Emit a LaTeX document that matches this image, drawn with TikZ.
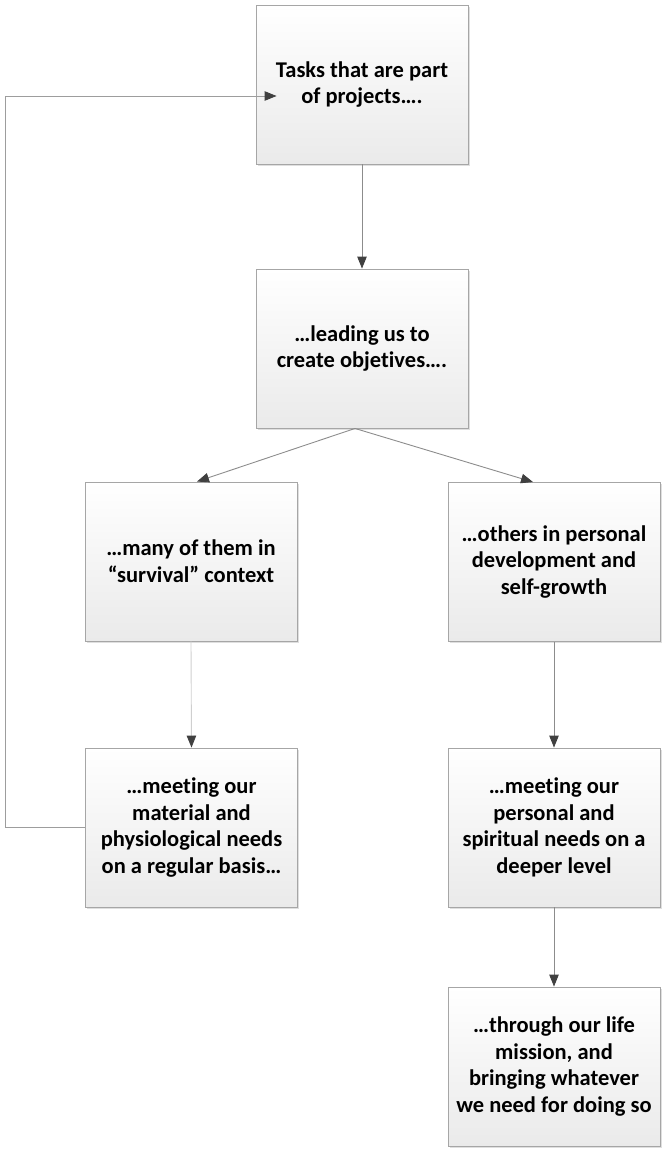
\documentclass[tikz,border=0pt]{standalone}
\usepackage{fontspec}
\setmainfont{Carlito}[Ligatures={NoCommon}]
\usetikzlibrary{arrows.meta,shadows,calc}
\definecolor{boxline}{HTML}{A6A6A6}
\definecolor{boxbot}{HTML}{EAEAEA}
\definecolor{conn}{HTML}{8C8C8C}
\definecolor{connlight}{HTML}{CFCFCF}
\definecolor{tipcol}{HTML}{404040}
\tikzset{
  stepbox/.style={draw=boxline, line width=0.9pt, top color=white, bottom color=boxbot,
    minimum width=212pt, minimum height=159pt, align=center,
    inner sep=0pt, font=\bfseries\fontsize{22.5}{26.7}\selectfont,
    drop shadow={shadow xshift=1.5pt, shadow yshift=-1.5pt, opacity=0.25, fill=gray}},
  conline/.style={draw=conn, line width=0.9pt,
    -{Triangle[length=12pt,width=9.5pt,fill=tipcol,color=tipcol]}},
  conlight/.style={conline, draw=connlight},
}
\begin{document}
\begin{tikzpicture}[x=1pt,y=-1pt]
\useasboundingbox (0,0) rectangle (666,1151);
\node[stepbox] (b1) at (362,84.5) {Tasks that are part\\of projects….};
\node[stepbox] (b2) at (362,348.5) {…leading us to\\create objetives….};
\node[stepbox] (b3) at (191,561.5) {…many of them in\\“survival” context};
\node[stepbox] (b4) at (554,562) {…others in personal\\development and\\self-growth};
\node[stepbox] (b5) at (191.5,827.5) {…meeting our\\material and\\physiological needs\\on a regular basis…};
\node[stepbox] (b6) at (554,827.5) {…meeting our\\personal and\\spiritual needs on a\\deeper level};
\node[stepbox] (b7) at (554,1066.5) {…through our life\\mission, and\\bringing whatever\\we need for doing so};
\draw[conline] (b1.south) -- (b2.north);
\draw[conline] ([xshift=-7pt]b2.south) -- ([xshift=6pt]b3.north);
\draw[conline] ([xshift=-7pt]b2.south) -- ([xshift=-21pt]b4.north);
\draw[conlight] (b3.south) -- (b5.north);
\draw[conline] (b4.south) -- (b6.north);
\draw[conline] (b6.south) -- (b7.north);
\coordinate (fb1) at (5,827.5);
\coordinate (fb2) at (5,96);
\draw[conline, draw=conn!85] (b5.west) -- (fb1) -- (fb2) -- ([xshift=21pt,yshift=-11.5pt]b1.west);
\end{tikzpicture}
\end{document}
